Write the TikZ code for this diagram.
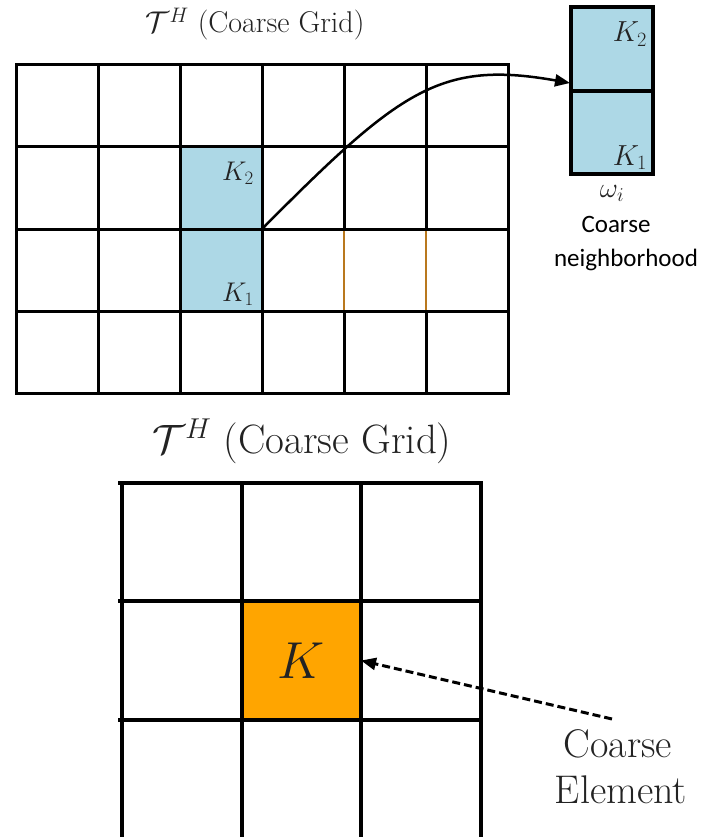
\RequirePackage{fix-cm}
\documentclass[tikz,border=0pt]{standalone}
\usepackage{fontspec}
\newfontfamily\calibri{Carlito}
\usetikzlibrary{arrows.meta,calc}
\definecolor{cellblue}{RGB}{173,216,230}
\definecolor{cellorange}{RGB}{255,165,0}
\definecolor{edgeorange}{RGB}{185,120,30}
\definecolor{inkgray}{RGB}{35,35,35}
\begin{document}
\begin{tikzpicture}[x=1pt,y=-1pt,
  gridA/.style={line width=3pt, line cap=rect},
  gridB/.style={line width=4.5pt, line cap=rect},
  thinedge/.style={line width=1.2pt, draw=edgeorange},
  cellbox/.style={inner sep=0pt, outer sep=0pt, minimum width=#1, minimum height=#1},
  lab/.style={inner sep=0pt, text=inkgray},
  curvearrow/.style={line width=2.5pt, -{Triangle[length=15pt,width=12pt]}},
  dasharrow/.style={line width=3pt, dash pattern=on 8pt off 4pt, -{Triangle[length=15pt,width=12pt]}}]
\useasboundingbox (0,0) rectangle (712,837);
\fill[white] (0,0) rectangle (712,837);

% ---------- top coarse grid ----------
\node[cellbox=82pt, fill=cellblue] (bK2) at (221,188) {};
\node[cellbox=82pt, fill=cellblue] (bK1) at (221,270) {};
\node[cellbox=82pt] (ocell) at (385,270) {};
\foreach \x in {16,98,180,262,508}
  \draw[gridA] (\x,65) -- (\x,393);
\foreach \x in {344,426} {
  \draw[gridA] (\x,65) -- (\x,229);
  \draw[gridA] (\x,311) -- (\x,393);
  \draw[thinedge] (\x,229) -- (\x,311);
}
\foreach \y in {65,147,229,311,393}
  \draw[gridA] (16,\y) -- (508,\y);

\node[lab, anchor=base east, font=\fontsize{27}{31}\selectfont] (lK2) at (254,180) {$K_2$};
\node[lab, anchor=base east, font=\fontsize{27}{31}\selectfont] (lK1) at (254,301) {$K_1$};

\node[lab, anchor=base, font=\fontsize{30}{34}\selectfont] (title1) at (255,33) {$\mathcal{T}^H$ (Coarse Grid)};

% ---------- coarse neighborhood ----------
\node[cellbox=82pt, minimum height=84pt, fill=cellblue, draw=black, line width=3.5pt] (nK2) at (612,49) {};
\node[cellbox=82pt, minimum height=83pt, fill=cellblue, draw=black, line width=3.5pt] (nK1) at (612,132.5) {};
\node[lab, anchor=base east, font=\fontsize{29}{33}\selectfont] (nlK2) at (647,42) {$K_2$};
\node[lab, anchor=base east, font=\fontsize{29}{33}\selectfont] (nlK1) at (647,165) {$K_1$};
\node[lab, anchor=base, font=\fontsize{28}{32}\selectfont] (omega) at (612,197) {$\omega_i$};
\node[inner sep=0pt, anchor=base, font=\calibri\fontsize{25}{30}\selectfont] (cn1) at (616,232) {Coarse};
\node[inner sep=0pt, anchor=base, font=\calibri\fontsize{25}{30}\selectfont] (cn2) at (626,266) {neighborhood};

\coordinate (arrowend) at (570,83);
\draw[curvearrow] (bK2.south east) .. controls (400,90) and (440,60) .. (arrowend);

% ---------- bottom coarse grid ----------
\node[lab, anchor=base, font=\fontsize{41}{47}\selectfont] (title2) at (302,453) {$\mathcal{T}^H$ (Coarse Grid)};
\node[inner sep=0pt, outer sep=0pt, minimum width=119pt, minimum height=119pt, fill=cellorange] (Kcell) at (301.5,660.5) {};
\node[lab, font=\fontsize{52}{60}\selectfont] (Klab) at (301,661) {$K$};
\foreach \x in {122,242,361,481}
  \draw[gridB] (\x,483) -- (\x,840);
\foreach \y in {483,601,720}
  \draw[gridB] (120,\y) -- (481,\y);

\node[lab, anchor=base, font=\fontsize{40}{46}\selectfont] (ce1) at (618,757) {Coarse};
\node[lab, anchor=base, font=\fontsize{40}{46}\selectfont] (ce2) at (621,803) {Element};
\coordinate (dstart) at (612,719);
\draw[dasharrow] (dstart) -- (Kcell.east);
\end{tikzpicture}
\end{document}
